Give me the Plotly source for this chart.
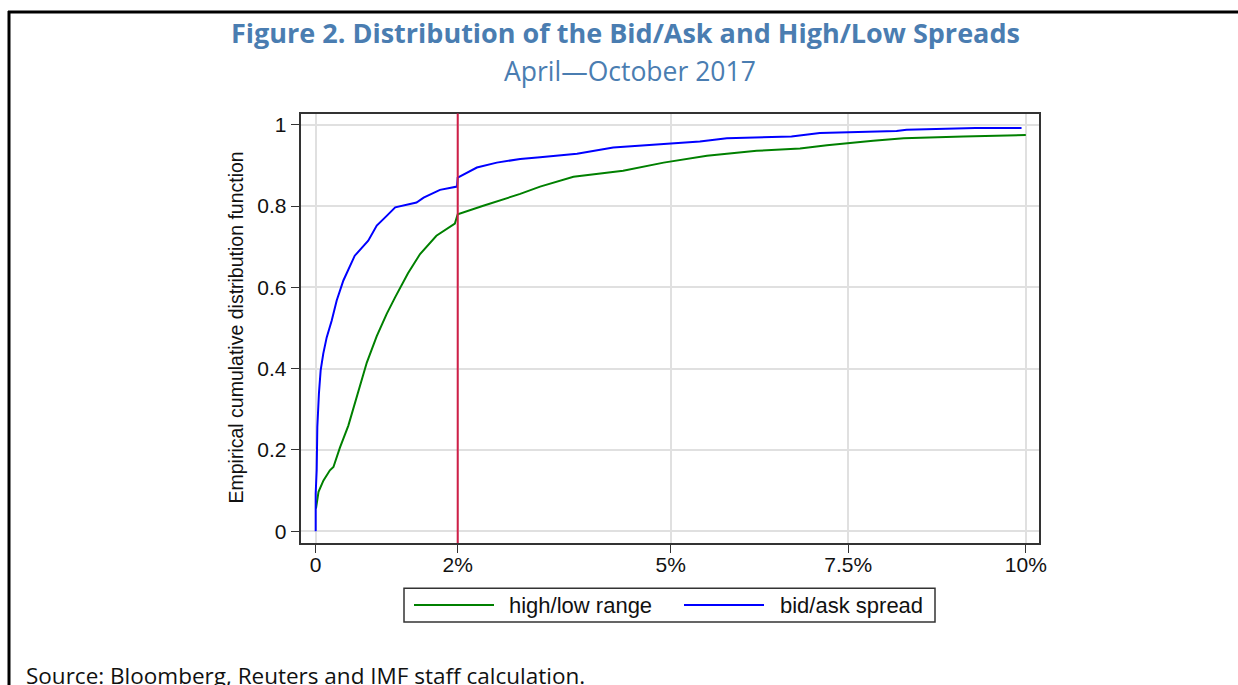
import plotly.graph_objects as go

# empirical CDF (x in %)
hl_x = [0.004, 0.04, 0.11, 0.2, 0.25, 0.34, 0.46, 0.58, 0.72, 0.86, 1.0, 1.12, 1.3, 1.47, 1.70, 1.96,
        2.0, 2.36, 2.88, 3.16, 3.63, 4.33, 4.9, 5.51, 6.21, 6.82, 7.2, 7.85, 8.28, 9.12, 9.78, 10.0]
hl_y = [0.056, 0.097, 0.125, 0.150, 0.158, 0.205, 0.26, 0.33, 0.415, 0.48, 0.535, 0.576, 0.635, 0.682, 0.727, 0.757,
        0.780, 0.801, 0.830, 0.848, 0.872, 0.887, 0.907, 0.924, 0.936, 0.942, 0.950, 0.961, 0.967, 0.971, 0.975, 0.975]

ba_x = [0, 0.0, 0.014, 0.023, 0.046, 0.07, 0.107, 0.155, 0.225, 0.296, 0.39, 0.55, 0.74, 0.86, 1.0, 1.12,
        1.42, 1.52, 1.75, 1.99, 2.0, 2.27, 2.55, 2.88, 3.16, 3.68, 4.19, 4.9, 5.41, 5.79, 6.7, 7.1,
        8.18, 8.32, 9.29, 9.94]
ba_y = [0, 0.093, 0.15, 0.256, 0.34, 0.396, 0.437, 0.477, 0.518, 0.568, 0.617, 0.678, 0.715, 0.752, 0.776, 0.797,
        0.809, 0.821, 0.840, 0.848, 0.870, 0.895, 0.907, 0.916, 0.920, 0.929, 0.944, 0.953, 0.959, 0.967, 0.971, 0.980,
        0.985, 0.988, 0.992, 0.992]

x_ticks = [0, 2, 5, 7.5, 10]
x_labels = ["0", "2%", "5%", "7.5%", "10%"]
y_ticks = [0, 0.2, 0.4, 0.6, 0.8, 1]
y_labels = ["0", "0.2", "0.4", "0.6", "0.8", "1"]
cutoff = 2

W, H = 1238, 685


def px(x):
    return x / W


def py(y):
    return 1 - y / H


fig = go.Figure()
fig.add_trace(go.Scatter(x=hl_x, y=hl_y, mode="lines", line=dict(color="#008000", width=2),
                         name="high/low range", showlegend=False))
fig.add_trace(go.Scatter(x=ba_x, y=ba_y, mode="lines", line=dict(color="#0000ff", width=2),
                         name="bid/ask spread", showlegend=False))

fig.add_vline(x=cutoff, line=dict(color="#d01f48", width=2))

axfont = dict(family="Liberation Sans, Arial", size=21, color="#111")
fig.update_xaxes(range=[-0.211, 10.19], tickvals=x_ticks, ticktext=x_labels,
                 showgrid=True, gridcolor="#e0e0e0", gridwidth=2, zeroline=False,
                 showline=True, mirror=True, linecolor="#333", linewidth=2,
                 ticks="outside", ticklen=8, tickcolor="#333", tickfont=axfont,
                 ticklabelstandoff=-6,
                 domain=[px(300.7), px(1039.3)])
fig.update_yaxes(range=[-0.0287, 1.0278], tickvals=y_ticks, ticktext=y_labels,
                 showgrid=True, gridcolor="#e0e0e0", gridwidth=2, zeroline=False,
                 showline=True, mirror=True, linecolor="#333", linewidth=2,
                 ticks="outside", ticklen=8, tickcolor="#333", tickfont=axfont,
                 domain=[py(542.7), py(112.7)])

shapes = [
    # outer frame (left and top)
    dict(type="line", xref="paper", yref="paper", x0=px(9), x1=px(9), y0=py(10), y1=0,
         line=dict(color="black", width=3)),
    dict(type="line", xref="paper", yref="paper", x0=px(8), x1=1, y0=py(11), y1=py(11),
         line=dict(color="black", width=3)),
    # legend box
    dict(type="rect", xref="paper", yref="paper", x0=px(404), x1=px(935), y0=py(622), y1=py(588),
         line=dict(color="#333", width=1.5), fillcolor="white", layer="below"),
    dict(type="line", xref="paper", yref="paper", x0=px(414), x1=px(494), y0=py(605), y1=py(605),
         line=dict(color="#008000", width=2)),
    dict(type="line", xref="paper", yref="paper", x0=px(684), x1=px(764), y0=py(605), y1=py(605),
         line=dict(color="#0000ff", width=2)),
]
for s in shapes:
    fig.add_shape(**s)

title_col = "#4a7db1"
lbl = dict(xref="paper", yref="paper", showarrow=False, yanchor="middle")
fig.add_annotation(text="<b>Figure 2. Distribution of the Bid/Ask and High/Low Spreads</b>",
                   x=px(625), y=py(32), xanchor="center",
                   font=dict(family="Open Sans", size=27, color=title_col), **lbl)
fig.add_annotation(text="April—October 2017", x=px(630), y=py(70), xanchor="center",
                   font=dict(family="Open Sans", size=26.5, color=title_col), **lbl)
fig.add_annotation(text="Empirical cumulative distribution function", x=px(236), y=py(327),
                   xanchor="center", textangle=-90,
                   font=dict(family="Liberation Sans, Arial", size=19.5, color="#111"), **lbl)
fig.add_annotation(text="high/low range", x=px(507), y=py(605), xanchor="left",
                   font=dict(family="Liberation Sans, Arial", size=22, color="#111"), **lbl)
fig.add_annotation(text="bid/ask spread", x=px(778), y=py(605), xanchor="left",
                   font=dict(family="Liberation Sans, Arial", size=22, color="#111"), **lbl)
fig.add_annotation(text="Source: Bloomberg, Reuters and IMF staff calculation.", x=px(24), y=py(675),
                   xanchor="left", font=dict(family="Open Sans", size=22.5, color="#111"), **lbl)

# start a bit smaller so the page (with the body's default 8px margin) never overflows,
# then drop the margin and grow the figure; the capture comes out ~8px narrower, so pad the width
fig.update_layout(width=W - 16, height=H - 16, autosize=False, margin=dict(l=0, r=0, t=0, b=0),
                  paper_bgcolor="white", plot_bgcolor="white", showlegend=False)

grow = ("document.body.style.margin='0';"
        "Plotly.relayout(document.getElementById('{plot_id}'), {width: %d, height: %d});" % (W + 8, H))
fig.write_html("out.html", config={"displayModeBar": False, "responsive": False}, post_script=grow)
